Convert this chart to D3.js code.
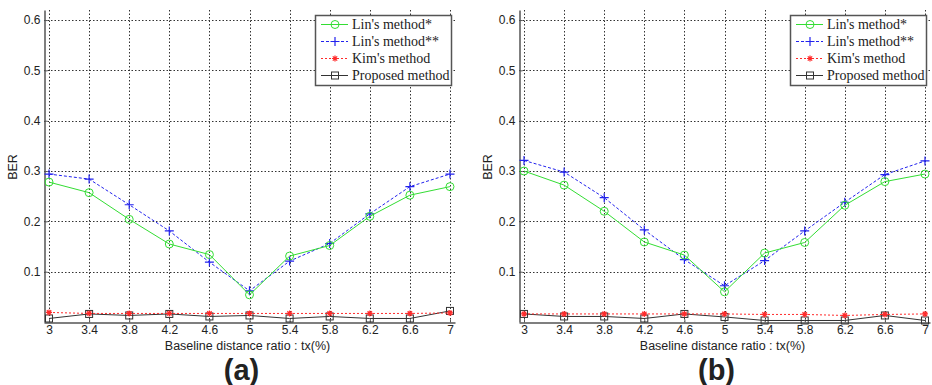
<!DOCTYPE html>
<html>
<head>
<meta charset="utf-8">
<script src="https://cdn.jsdelivr.net/npm/d3@7"></script>
<style>
  body { margin: 0; background: #fff; }
  svg text { font-family: Arial, "Liberation Sans", sans-serif; fill: #222; }
  .legendText { font-family: "Times New Roman", "Liberation Serif", serif !important; }
</style>
</head>
<body>
<div id="graphicContainer"></div>
<script>
// x positions (tx %)
var txValues = [3, 3.4, 3.8, 4.2, 4.6, 5, 5.4, 5.8, 6.2, 6.6, 7]
var yTicks = [0.1, 0.2, 0.3, 0.4, 0.5, 0.6]
var seriesNames = ["Lin's method*", "Lin's method**", "Kim's method", "Proposed method"]

// panel (a)
var linStarA = [0.278, 0.257, 0.204, 0.155, 0.134, 0.054, 0.131, 0.152, 0.210, 0.252, 0.269]
var linStarStarA = [0.294, 0.284, 0.233, 0.181, 0.119, 0.062, 0.121, 0.156, 0.215, 0.269, 0.294]
var kimA = [0.019, 0.017, 0.017, 0.017, 0.017, 0.017, 0.017, 0.017, 0.017, 0.017, 0.018]
var proposedA = [0.007, 0.016, 0.013, 0.016, 0.011, 0.013, 0.007, 0.011, 0.007, 0.007, 0.022]

// panel (b)
var linStarB = [0.300, 0.272, 0.220, 0.159, 0.133, 0.060, 0.137, 0.158, 0.232, 0.279, 0.294]
var linStarStarB = [0.321, 0.298, 0.247, 0.183, 0.124, 0.072, 0.122, 0.181, 0.238, 0.293, 0.320]
var kimB = [0.016, 0.016, 0.016, 0.016, 0.016, 0.016, 0.015, 0.015, 0.013, 0.015, 0.016]
var proposedB = [0.016, 0.011, 0.011, 0.007, 0.016, 0.010, 0.003, 0.003, 0.003, 0.013, 0.003]

var width = 932, height = 385

var svg = d3.select("#graphicContainer").append("svg")
    .attr("width", width)
    .attr("height", height)

function makePanel(left, series, label) {
    var x = d3.scaleLinear().domain([2.95, 7.05]).range([left, left + 411])
    var y = d3.scaleLinear().domain([0, 0.62]).range([322, 10])

    var g = svg.append("g")

    // grid
    g.append("g").selectAll("line")
        .data(txValues)
        .enter().append("line")
        .attr("x1", d => Math.round(x(d)) + 0.5)
        .attr("x2", d => Math.round(x(d)) + 0.5)
        .attr("y1", y(0.62))
        .attr("y2", y(0))
        .attr("stroke", "#333")
        .attr("stroke-width", 1)
        .attr("stroke-dasharray", "1.5,2")

    g.append("g").selectAll("line")
        .data(yTicks)
        .enter().append("line")
        .attr("x1", x(2.95))
        .attr("x2", x(7.05))
        .attr("y1", d => Math.round(y(d)) + 0.5)
        .attr("y2", d => Math.round(y(d)) + 0.5)
        .attr("stroke", "#333")
        .attr("stroke-width", 1)
        .attr("stroke-dasharray", "1.5,2")

    // axes (matlab style: ticks point inward)
    var xAxis = g.append("g")
        .attr("transform", "translate(0," + (y(0) + 0.5) + ")")
        .call(d3.axisBottom(x).tickValues(txValues).tickSizeInner(-3).tickSizeOuter(0).tickPadding(3).tickFormat(d3.format("")))
    var yAxis = g.append("g")
        .attr("transform", "translate(" + (x(2.95) + 0.5) + ",0)")
        .call(d3.axisLeft(y).tickValues(yTicks).tickSizeInner(-3).tickSizeOuter(0).tickPadding(4).tickFormat(d3.format(".1f")))

    ;[xAxis, yAxis].forEach(function(a) {
        a.select(".domain").attr("stroke", "#555").attr("stroke-width", 1.5)
        a.selectAll(".tick line").attr("stroke", "#555")
        a.selectAll(".tick text").style("font-size", "12px").attr("fill", "#333")
    })

    // lines
    var line = d3.line().x((d, i) => x(txValues[i])).y(d => y(d))

    var styles = [
        {color: "#33dd33", dash: null, marker: "circle"},
        {color: "#2222ee", dash: "3,2", marker: "plus"},
        {color: "#ff2a2a", dash: "2,2", marker: "star"},
        {color: "#333333", dash: null, marker: "square"}
    ]

    // draw bottom-most series first so green/blue are on top
    ;[3, 2, 1, 0].forEach(function(k) {
        var s = styles[k]
        g.append("path")
            .datum(series[k])
            .attr("d", line)
            .attr("fill", "none")
            .attr("stroke", s.color)
            .attr("stroke-width", 1)
            .attr("stroke-dasharray", s.dash)

        g.append("g").selectAll("g")
            .data(series[k])
            .enter().append("g")
            .attr("transform", (d, i) => "translate(" + x(txValues[i]) + "," + y(d) + ")")
            .each(function() { drawMarker(d3.select(this), s) })
    })

    // legend
    var lx = left + 271, ly = 15
    var legend = g.append("g").attr("transform", "translate(" + lx + "," + ly + ")")
    legend.append("rect")
        .attr("x", 0.5).attr("y", 0.5)
        .attr("width", 136).attr("height", 70)
        .attr("fill", "white")
        .attr("stroke", "#555")
        .attr("stroke-width", 1.5)

    seriesNames.forEach(function(name, k) {
        var s = styles[k]
        var yy = 9.5 + k * 17
        legend.append("line")
            .attr("x1", 6).attr("x2", 33)
            .attr("y1", yy).attr("y2", yy)
            .attr("stroke", s.color)
            .attr("stroke-width", 1)
            .attr("stroke-dasharray", s.dash)
        var m = legend.append("g").attr("transform", "translate(20," + yy + ")")
        drawMarker(m, s)
        legend.append("text")
            .attr("class", "legendText")
            .attr("x", 37)
            .attr("y", yy + 4.5)
            .style("font-size", "14px")
            .attr("fill", "#111")
            .text(name)
    })

    // axis titles
    g.append("text")
        .attr("x", (x(2.95) + x(7.05)) / 2 - 2)
        .attr("y", 350)
        .attr("text-anchor", "middle")
        .style("font-size", "12.5px")
        .text("Baseline distance ratio : tx(%)")

    g.append("text")
        .attr("transform", "translate(" + (left - 27) + "," + 167 + ") rotate(-90)")
        .attr("text-anchor", "middle")
        .style("font-size", "12.5px")
        .text("BER")

    g.append("text")
        .attr("x", (x(2.95) + x(7.05)) / 2 - 8)
        .attr("y", 380)
        .attr("text-anchor", "middle")
        .style("font-size", "29px")
        .style("font-weight", "bold")
        .attr("fill", "#000")
        .text(label)
}

function drawMarker(sel, s) {
    if (s.marker == "circle") {
        sel.append("circle").attr("r", 4).attr("fill", "none").attr("stroke", s.color).attr("stroke-width", 1)
    } else if (s.marker == "plus") {
        sel.append("path").attr("d", "M-4.5,0H4.5M0,-4.5V4.5").attr("stroke", s.color).attr("stroke-width", 1.2)
    } else if (s.marker == "star") {
        sel.append("path").attr("d", "M-3,0H3M0,-3V3M-2.2,-2.2L2.2,2.2M-2.2,2.2L2.2,-2.2").attr("stroke", s.color).attr("stroke-width", 1.2)
    } else {
        sel.append("rect").attr("x", -3.5).attr("y", -3.5).attr("width", 7).attr("height", 7)
            .attr("fill", "none").attr("stroke", s.color).attr("stroke-width", 1)
    }
}

makePanel(44, [linStarA, linStarStarA, kimA, proposedA], "(a)")
makePanel(519, [linStarB, linStarStarB, kimB, proposedB], "(b)")
</script>
</body>
</html>
